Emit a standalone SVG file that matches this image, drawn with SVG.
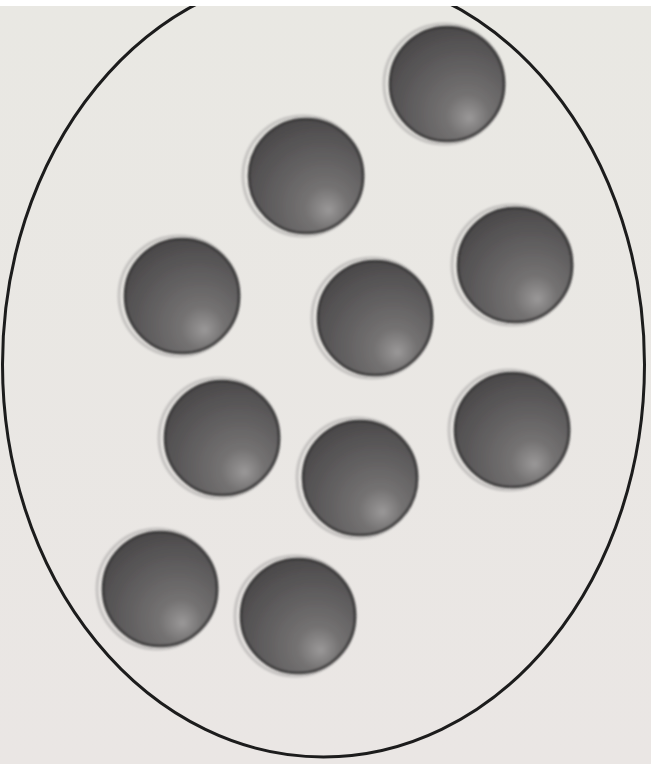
<svg xmlns="http://www.w3.org/2000/svg" width="651" height="764" viewBox="0 0 651 764">
<defs>
<radialGradient id="btn" cx="0.62" cy="0.72" r="0.75" fx="0.7" fy="0.8">
<stop offset="0" stop-color="#9a9898"/>
<stop offset="0.25" stop-color="#747272"/>
<stop offset="0.65" stop-color="#5d5b5c"/>
<stop offset="1" stop-color="#4a4849"/>
</radialGradient>
<linearGradient id="bg" x1="0" y1="0" x2="0" y2="1">
<stop offset="0" stop-color="#e9e8e3"/>
<stop offset="1" stop-color="#eae6e4"/>
</linearGradient>
<filter id="soft" x="-20%" y="-20%" width="140%" height="140%">
<feGaussianBlur stdDeviation="1.2"/>
</filter>
</defs>
<style>
.b circle.body{fill:url(#btn);stroke:#363435;stroke-width:2.5;filter:url(#soft)}
.b circle.sh{fill:none;stroke:#9a9898;stroke-width:3;opacity:0.45;filter:url(#soft)}
.outline{fill:none;stroke:#1c1c1c;stroke-width:3}
</style>
<rect x="0" y="0" width="651" height="764" fill="url(#bg)"/>
<ellipse class="outline" cx="323.5" cy="364.5" rx="321" ry="392.5"/>
<rect x="0" y="0" width="651" height="6" fill="#ffffff"/>
<g class="b" id="button1"><circle class="sh" cx="444" cy="84" r="60"/><circle class="body" cx="447" cy="84" r="57"/></g>
<g class="b" id="button2"><circle class="sh" cx="303" cy="176" r="60"/><circle class="body" cx="306" cy="176" r="57"/></g>
<g class="b" id="button3"><circle class="sh" cx="179" cy="296" r="60"/><circle class="body" cx="182" cy="296" r="57"/></g>
<g class="b" id="button4"><circle class="sh" cx="372" cy="318" r="60"/><circle class="body" cx="375" cy="318" r="57"/></g>
<g class="b" id="button5"><circle class="sh" cx="512" cy="265" r="60"/><circle class="body" cx="515" cy="265" r="57"/></g>
<g class="b" id="button6"><circle class="sh" cx="219" cy="438" r="60"/><circle class="body" cx="222" cy="438" r="57"/></g>
<g class="b" id="button7"><circle class="sh" cx="357" cy="478" r="60"/><circle class="body" cx="360" cy="478" r="57"/></g>
<g class="b" id="button8"><circle class="sh" cx="509" cy="430" r="60"/><circle class="body" cx="512" cy="430" r="57"/></g>
<g class="b" id="button9"><circle class="sh" cx="157" cy="589" r="60"/><circle class="body" cx="160" cy="589" r="57"/></g>
<g class="b" id="button10"><circle class="sh" cx="295" cy="616" r="60"/><circle class="body" cx="298" cy="616" r="57"/></g>
</svg>
